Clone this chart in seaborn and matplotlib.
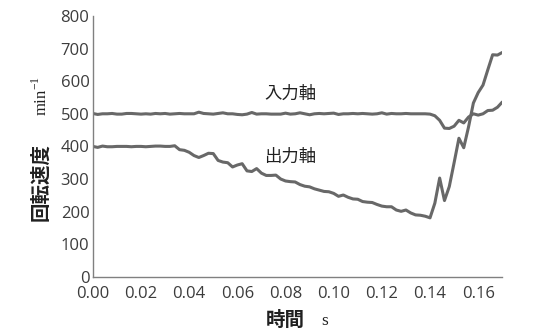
import numpy as np
import pandas as pd
import matplotlib
matplotlib.use("Agg")
import matplotlib.pyplot as plt
import seaborn as sns

# time axis [s], sampled every 2 ms
time_s = np.round(np.arange(0, 0.1701, 0.002), 3)

# input shaft speed [min^-1]
input_speed = [
    501, 498, 500, 500, 501, 499, 499, 501, 501, 500,
    499, 500, 499, 501, 500, 501, 499, 500, 501, 500,
    500, 500, 505, 501, 500, 499, 501, 503, 500, 500,
    498, 497, 499, 504, 499, 500, 500, 499, 499, 499,
    502, 499, 500, 503, 500, 497, 500, 501, 500, 501,
    502, 498, 500, 500, 501, 500, 501, 500, 499, 500,
    503, 499, 501, 500, 500, 501, 500, 500, 500, 500,
    499, 494, 480, 456, 455, 462, 480, 472, 490, 500,
    496, 500, 510, 511, 520, 536,
]

# output shaft speed [min^-1]
output_speed = [
    400, 397, 401, 399, 399, 400, 400, 400, 399, 400,
    400, 399, 400, 401, 401, 400, 400, 402, 390, 388,
    382, 372, 366, 372, 379, 378, 357, 352, 350, 337,
    343, 347, 325, 323, 332, 318, 311, 311, 312, 300,
    294, 292, 291, 283, 278, 276, 270, 266, 262, 261,
    256, 247, 251, 244, 239, 238, 231, 229, 228, 222,
    217, 215, 215, 205, 201, 205, 196, 190, 189, 186,
    181, 226, 303, 234, 277, 350, 425, 396, 460, 533,
    565, 588, 635, 681, 680, 688,
]

series_names = ["入力軸", "出力軸"]
x_ticks = [0.00, 0.02, 0.04, 0.06, 0.08, 0.10, 0.12, 0.14, 0.16]
y_ticks = [0, 100, 200, 300, 400, 500, 600, 700, 800]

df = pd.DataFrame({"time": time_s, series_names[0]: input_speed,
                   series_names[1]: output_speed})
long_df = df.melt(id_vars="time", var_name="shaft", value_name="speed")

sns.set_style("white")
plt.rcParams["font.family"] = ["Open Sans", "Noto Sans CJK JP", "DejaVu Sans"]

line_col = "#686868"
text_col = "#3c3c3c"
cjk = ["Noto Sans CJK JP", "DejaVu Sans"]

fig = plt.figure(figsize=(5.43, 3.32), dpi=100)
ax = fig.add_axes([0.171, 0.166, 0.754, 0.786])

sns.lineplot(data=long_df, x="time", y="speed", hue="shaft",
             palette=[line_col, line_col], linewidth=2.2, legend=False, ax=ax)

ax.set_xlim(0, 0.17)
ax.set_ylim(0, 800)
ax.set_xticks(x_ticks)
ax.set_xticklabels([f"{t:.2f}" for t in x_ticks])
ax.set_yticks(y_ticks)
ax.set_yticklabels([str(v) for v in y_ticks])

for side in ("top", "right"):
    ax.spines[side].set_visible(False)
for side in ("left", "bottom"):
    ax.spines[side].set_color("#808080")
    ax.spines[side].set_linewidth(1.0)

ax.tick_params(axis="y", direction="inout", length=5, width=0.8,
               color="#808080", labelsize=12, labelcolor=text_col, pad=0)
ax.tick_params(axis="x", direction="in", length=3, width=0.8,
               color="#808080", labelsize=12, labelcolor=text_col, pad=6.5)
ax.set_xlabel("")
ax.set_ylabel("")

# series names next to their curves
ax.text(0.082, 560, series_names[0], family=cjk, fontsize=12.5,
        color="#202020", ha="center", va="center")
ax.text(0.082, 368, series_names[1], family=cjk, fontsize=12.5,
        color="#202020", ha="center", va="center")

# axis titles
fig.text(41 / 543, 1 - 182 / 332, "回転速度", family=cjk, fontsize=14,
         fontweight="bold", color="#202020", rotation=90,
         ha="center", va="center")
fig.text(41 / 543, 1 - 96 / 332, "min$^{\\mathregular{-1}}$",
         family="Liberation Serif", fontsize=12, color="#202020",
         rotation=90, ha="center", va="center")
fig.text(285 / 543, 1 - 320 / 332, "時間", family=cjk, fontsize=14,
         fontweight="bold", color="#202020", ha="center", va="center")
fig.text(325 / 543, 1 - 321 / 332, "s", family="Liberation Serif",
         fontsize=12.5, color="#202020", ha="center", va="center")

fig.savefig("out.png", dpi=100)
